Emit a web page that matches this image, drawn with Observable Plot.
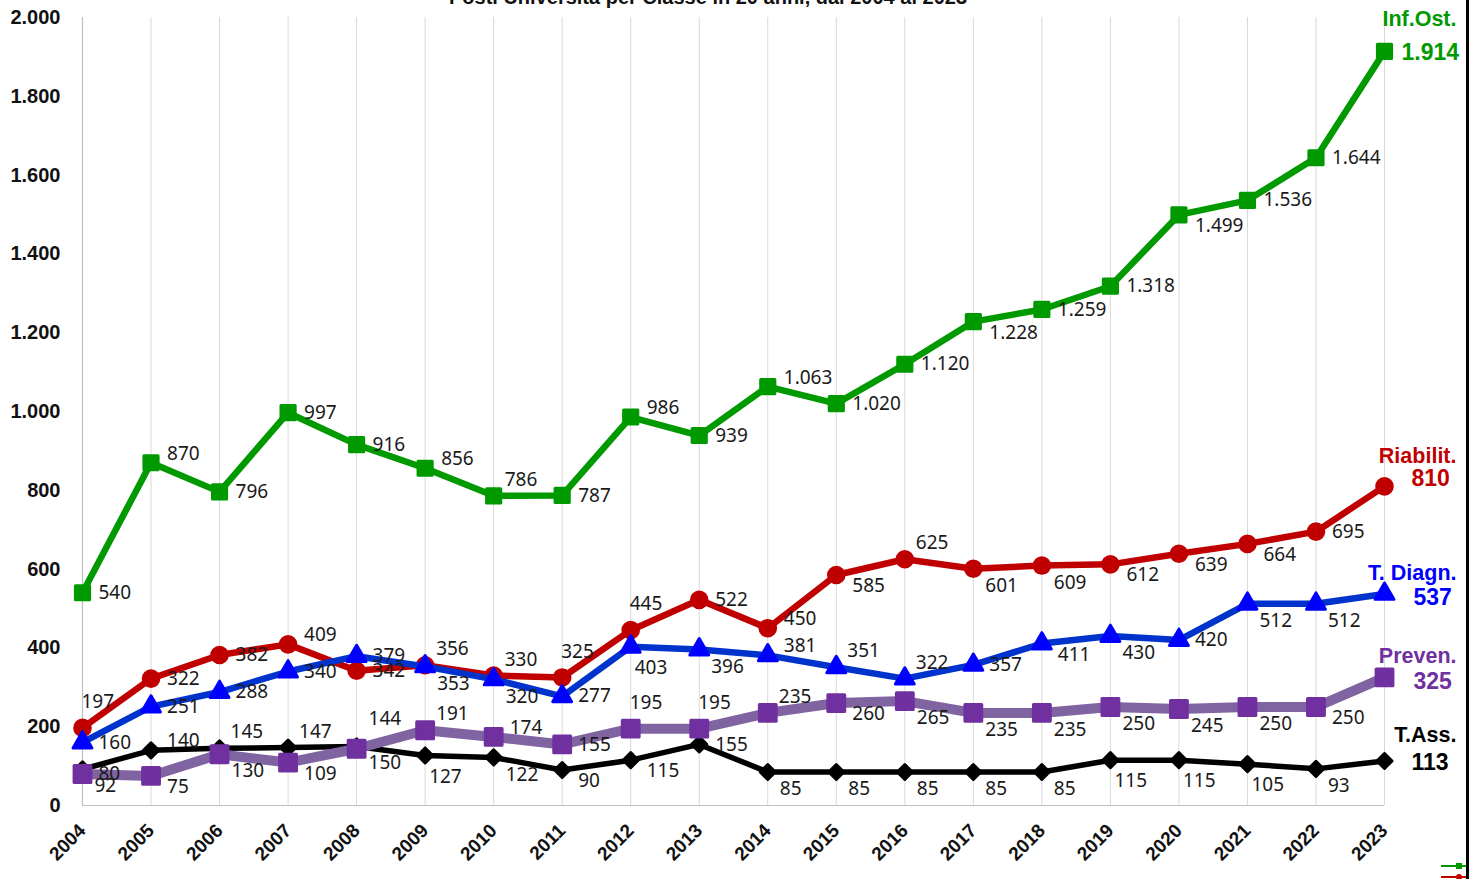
<!DOCTYPE html>
<html>
<head>
<meta charset="utf-8">
<script src="https://cdn.jsdelivr.net/npm/d3@7"></script>
<script src="https://cdn.jsdelivr.net/npm/@observablehq/plot@0.6"></script>
<style>
  html, body { margin: 0; padding: 0; background: #fff; }
  body { width: 1477px; height: 879px; position: relative; overflow: hidden; font-family: "Liberation Sans", Arial, sans-serif; }
  #chart { position: absolute; left: 0; top: 0; }
  #title { position: absolute; left: 0; top: -13px; width: 1416px; text-align: center; font-weight: bold; font-size: 20px; line-height: 20px; color: #111; }
  #border { position: absolute; left: 1466px; top: 0; width: 3px; height: 879px; background: #000; }
  .lg { position: absolute; height: 2px; }
  .lgm { position: absolute; width: 6px; height: 6px; }
  #chart svg g[aria-label="y-axis tick label"] text,
  #chart svg g[aria-label="x-axis tick label"] text { font-weight: bold; }
</style>
</head>
<body>
<div id="chart"></div>
<div id="title">Posti Università per Classe in 20 anni, dal 2004 al 2023</div>
<div id="border"></div>
<div class="lg" style="left:1441px;top:865px;width:25px;background:#009a00"></div>
<div class="lgm" style="left:1456px;top:863px;background:#009a00"></div>
<div class="lg" style="left:1441px;top:876px;width:25px;background:#c00000"></div>
<div class="lgm" style="left:1456px;top:874px;background:#c00000;border-radius:3px"></div>
<script>
const years = [2004, 2005, 2006, 2007, 2008, 2009, 2010, 2011, 2012, 2013, 2014, 2015, 2016, 2017, 2018, 2019, 2020, 2021, 2022, 2023];
const yTicks = [0, 200, 400, 600, 800, 1000, 1200, 1400, 1600, 1800, 2000];
const seriesNames = ["Inf.Ost.", "Riabilit.", "T. Diagn.", "Preven.", "T.Ass."];

const infOst   = [540, 870, 796, 997, 916, 856, 786, 787, 986, 939, 1063, 1020, 1120, 1228, 1259, 1318, 1499, 1536, 1644, 1914];
const riabilit = [197, 322, 382, 409, 342, 356, 330, 325, 445, 522, 450, 585, 625, 601, 609, 612, 639, 664, 695, 810];
const tDiagn   = [160, 251, 288, 340, 379, 353, 320, 277, 403, 396, 381, 351, 322, 357, 411, 430, 420, 512, 512, 537];
const preven   = [80, 75, 130, 109, 144, 191, 174, 155, 195, 195, 235, 260, 265, 235, 235, 250, 245, 250, 250, 325];
const tAss     = [92, 140, 145, 147, 150, 127, 122, 90, 115, 155, 85, 85, 85, 85, 85, 115, 115, 105, 93, 113];

// label placement codes (layout only)
const infOstPos   = ["r","ru","r","r","r","ru","uR","r","ru","r","ru","r","r","rd","r","r","rd","r","r","end"];
const riabilitPos = ["u","r","r","ru","r","uR","uR","u","u","r","ru","rd","uR","dR","dR","rd","rd","rd","r","end"];
const tDiagnPos   = ["r","r","r","r","r","dR","dR","r","d","dR","ru","uR","uR","r","rd","dR","r","dR","dR","end"];
const prevenPos   = ["r","rd","dR","rd","uu","uR","ru","r","u","u","uR","rd","dR","dR","dR","dR","dR","dR","rd","end"];
const tAssPos     = ["dR","ru","uR","uR","dR","d","dR","rd","rd","r","dR","dR","dR","dR","dR","d","d","d","dR","end"];

const placement = {
  r:  {dx: 16, dy: 0},
  ru: {dx: 16, dy: -9},
  rd: {dx: 16, dy: 11},
  uR: {dx: 11, dy: -16},
  dR: {dx: 12, dy: 17},
  u:  {dx: -1, dy: -26},
  uu: {dx: 12, dy: -30},
  d:  {dx: 4, dy: 21}
};

const fmt = d3.formatLocale({decimal: ",", thousands: ".", grouping: [3], currency: ["", " €"]}).format(",d");

// draw order: back to front
const series = [
  {name: seriesNames[4], values: tAss,     pos: tAssPos,     line: "#000000", fill: "#000000", width: 5.5, symbol: "square",   r: 6,   rotate: 45, nameDy: -26, valDy: 2,  valDx: 27},
  {name: seriesNames[3], values: preven,   pos: prevenPos,   line: "#8064a2", fill: "#7030a0", width: 10,  symbol: "square",   r: 9.5, rotate: 0,  nameDy: -21, valDy: 4,  valDx: 29},
  {name: seriesNames[1], values: riabilit, pos: riabilitPos, line: "#c00000", fill: "#c00000", width: 6.5, symbol: "circle",   r: 7.8, rotate: 0,  nameDy: -30, valDy: -8, valDx: 27},
  {name: seriesNames[2], values: tDiagn,   pos: tDiagnPos,   line: "#0033cc", fill: "#0000ff", width: 6.5, symbol: "triangle", r: 7,   rotate: 0,  nameDy: -21, valDy: 4,  valDx: 29},
  {name: seriesNames[0], values: infOst,   pos: infOstPos,   line: "#009a00", fill: "#009a00", width: 6.5, symbol: "square",   r: 8,   rotate: 0,  nameDy: -32, valDy: 1,  valDx: 17}
];

series.forEach(s => {
  s.rows = years.map((year, i) => ({series: s.name, year, value: s.values[i], pos: s.pos[i]}));
});
const allRows = series.flatMap(s => s.rows);

const marks = [
  Plot.gridX(years, {stroke: "#d9d9d9", strokeOpacity: 1, strokeWidth: 1}),
  Plot.ruleX([2004], {stroke: "#bfbfbf", strokeWidth: 1.2}),
  Plot.ruleY([0], {stroke: "#bfbfbf", strokeWidth: 1.2}),
  Plot.axisY({ticks: yTicks, tickSize: 0, tickPadding: 22, tickFormat: fmt, fontSize: 20, label: null, fill: "#111"}),
  Plot.axisX({ticks: years, tickSize: 0, tickPadding: 22, tickRotate: -45, tickFormat: d => String(d), fontSize: 19, label: null, fill: "#111"})
];

series.forEach(s => {
  marks.push(Plot.line(s.rows, {x: "year", y: "value", stroke: s.line, strokeWidth: s.width, strokeLinejoin: "round"}));
  marks.push(Plot.dot(s.rows, {x: "year", y: "value", symbol: s.symbol, r: s.r, fill: s.fill, stroke: s.fill, strokeWidth: 3, strokeLinejoin: "round", rotate: s.rotate}));
});

Object.entries(placement).forEach(([code, p]) => {
  marks.push(Plot.text(allRows.filter(d => d.pos === code), {
    x: "year", y: "value", text: d => fmt(d.value), dx: p.dx, dy: p.dy,
    textAnchor: "start", fontSize: 19, fontFamily: "Noto Sans, sans-serif", fill: "#1a1a1a"
  }));
});

series.forEach(s => {
  const end = s.rows.filter(d => d.pos === "end");
  marks.push(Plot.text(end, {x: "year", y: "value", text: d => fmt(d.value), dx: s.valDx, dy: s.valDy, textAnchor: "start", fontSize: 23, fontWeight: "bold", fontFamily: "Liberation Sans, Arial, sans-serif", fill: s.fill}));
  marks.push(Plot.text(end, {x: "year", y: "value", text: d => d.series, dx: 72, dy: s.nameDy, textAnchor: "end", fontSize: 21.5, fontWeight: "bold", fontFamily: "Liberation Sans, Arial, sans-serif", fill: s.fill}));
});

const chart = Plot.plot({
  width: 1477,
  height: 879,
  marginLeft: 82,
  marginRight: 93,
  marginTop: 17,
  marginBottom: 74,
  style: {fontFamily: "Liberation Sans, Arial, sans-serif", background: "transparent", overflow: "visible"},
  x: {type: "linear", domain: [2004, 2023], label: null},
  y: {type: "linear", domain: [0, 2000], label: null},
  marks
});
document.getElementById("chart").appendChild(chart);
</script>
</body>
</html>
